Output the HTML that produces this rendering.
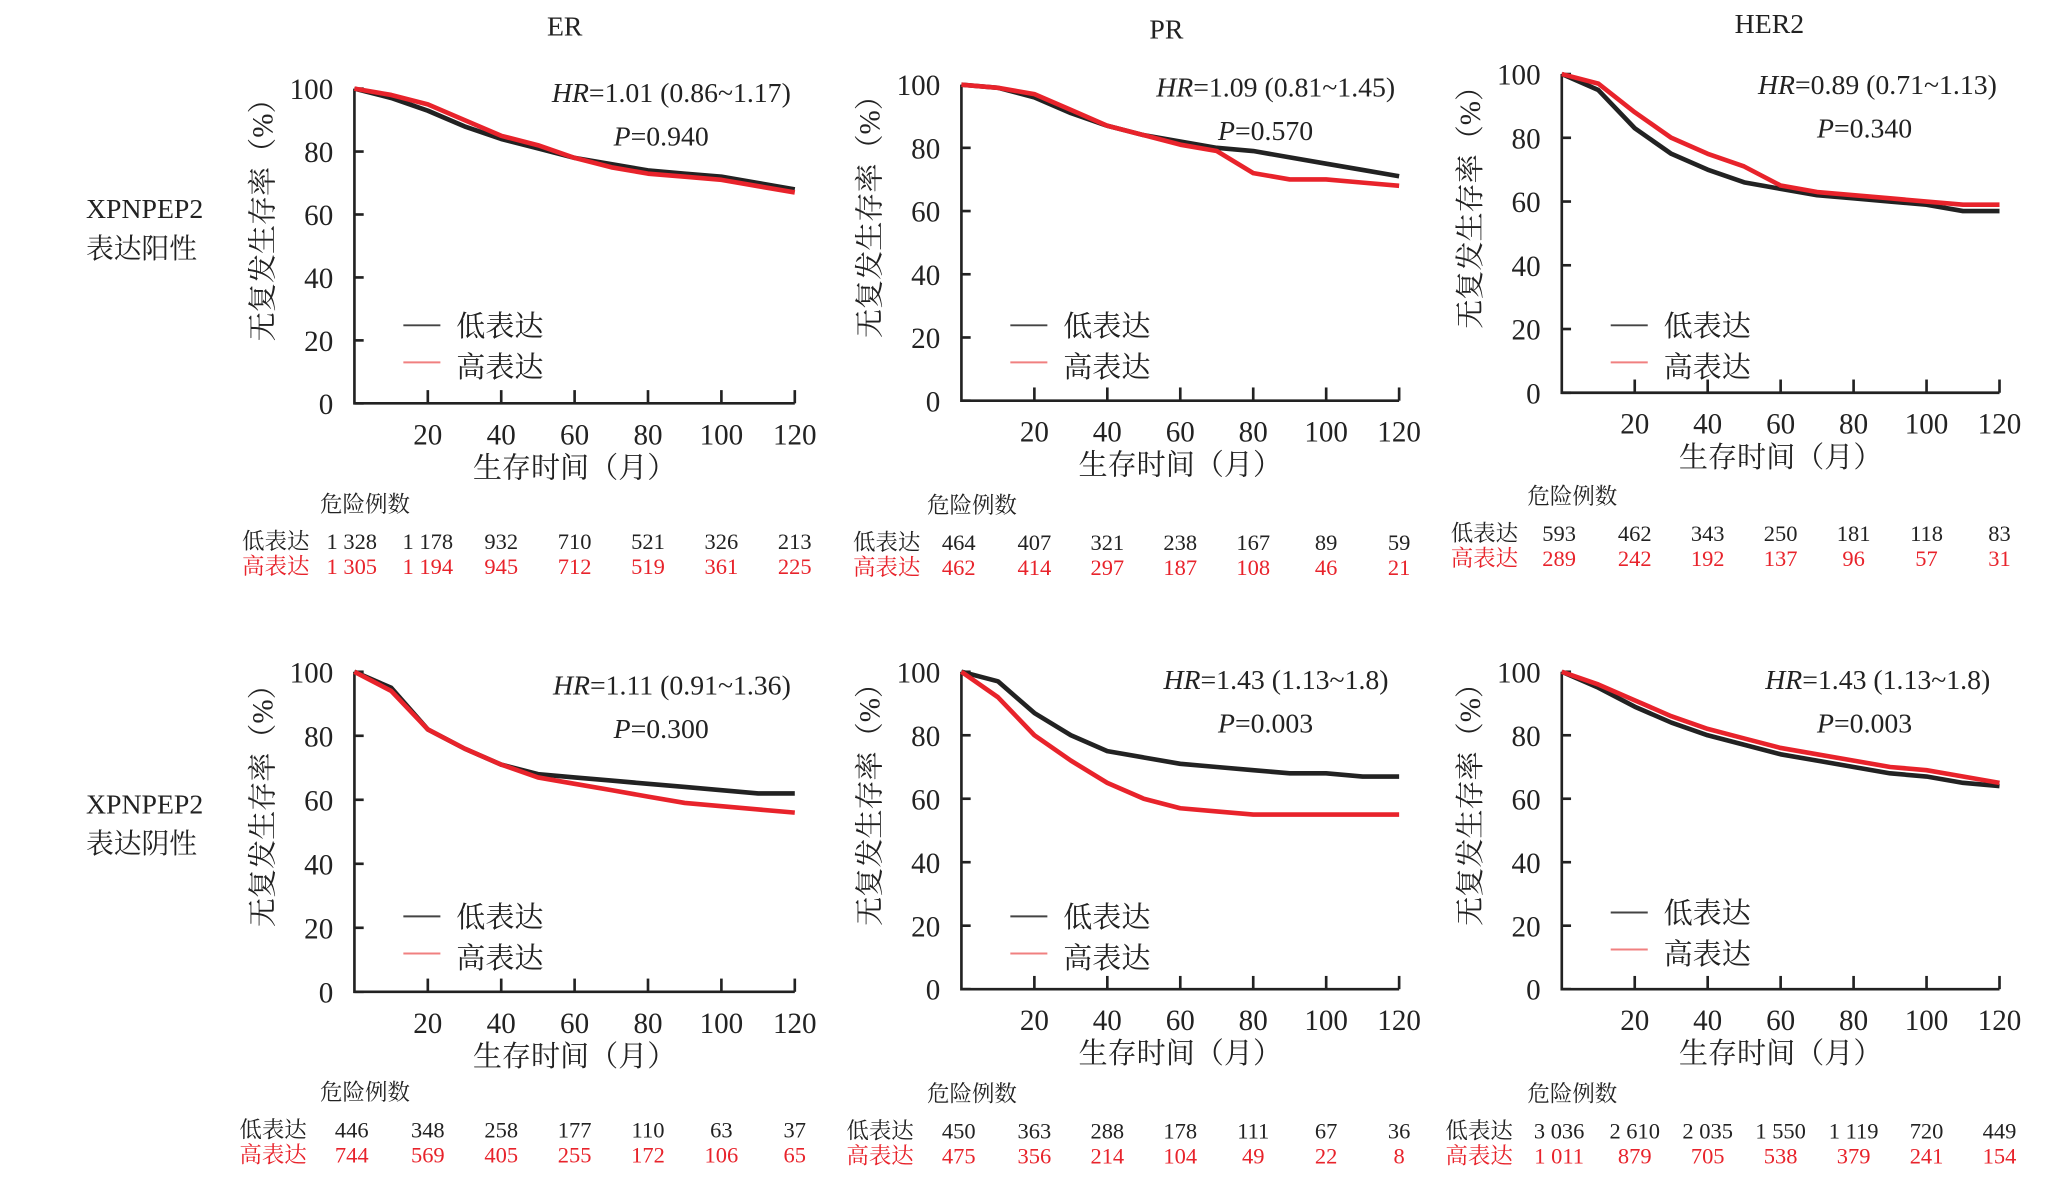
<!DOCTYPE html>
<html><head><meta charset="utf-8"><style>
html,body{margin:0;padding:0;background:#fff;}
svg{display:block;}
text{font-family:"Liberation Serif","Noto Serif CJK SC",serif;}
</style></head><body>
<svg id="chart" width="2063" height="1178" viewBox="0 0 1560 890.8" xmlns="http://www.w3.org/2000/svg"></svg>
<script>
const months = [0,10,20,30,40,50,60,70,80,90,100,110,120];
const xTicks = [20,40,60,80,100,120];
const yTicks = [0,20,40,60,80,100];
const erPosLow  = [100,97,93,88,84,81,78,76,74,73,72,70,68];
const erPosHigh = [100,98,95,90,85,82,78,75,73,72,71,69,67];
const prPosLow  = [100,99,96,91,87,84,82,80,79,77,75,73,71];
const prPosHigh = [100,99,97,92,87,84,81,79,72,70,70,69,68];
const herPosLow  = [100,95,83,75,70,66,64,62,61,60,59,57,57];
const herPosHigh = [100,97,88,80,75,71,65,63,62,61,60,59,59];
const erNegLow  = [100,95,82,76,71,68,67,66,65,64,63,62,62];
const erNegHigh = [100,94,82,76,71,67,65,63,61,59,58,57,56];
const prNegLow  = [100,97,87,80,75,73,71,70,69,68,68,67,67];
const prNegHigh = [100,92,80,72,65,60,57,56,55,55,55,55,55];
const herNegLow  = [100,95,89,84,80,77,74,72,70,68,67,65,64];
const herNegHigh = [100,96,91,86,82,79,76,74,72,70,69,67,65];
const riskErPosLow = ["1 328","1 178","932","710","521","326","213"];
const riskErPosHigh = ["1 305","1 194","945","712","519","361","225"];
const riskPrPosLow = ["464","407","321","238","167","89","59"];
const riskPrPosHigh = ["462","414","297","187","108","46","21"];
const riskHerPosLow = ["593","462","343","250","181","118","83"];
const riskHerPosHigh = ["289","242","192","137","96","57","31"];
const riskErNegLow = ["446","348","258","177","110","63","37"];
const riskErNegHigh = ["744","569","405","255","172","106","65"];
const riskPrNegLow = ["450","363","288","178","111","67","36"];
const riskPrNegHigh = ["475","356","214","104","49","22","8"];
const riskHerNegLow = ["3 036","2 610","2 035","1 550","1 119","720","449"];
const riskHerNegHigh = ["1 011","879","705","538","379","241","154"];

const NS="http://www.w3.org/2000/svg";
const svg=document.getElementById('chart');
function mk(tag,attrs,parent,txt){const e=document.createElementNS(NS,tag);for(const k in attrs)e.setAttribute(k,attrs[k]);if(txt!==undefined)e.textContent=txt;(parent||svg).appendChild(e);return e;}
function txt(x,y,s,size,anchor,parent,name,fill){const t=mk('text',{x:x,y:y,'font-size':size,'text-anchor':anchor||'middle'},parent,s);t.style.fill=fill||'#222';


return t;}

const panels=[
 {x0:268,x1:601,yT:67,yB:305,title:'ER',tX:427,tY:20,hr:'1.01 (0.86~1.17)',hrX:598,hrY:77,p:'0.940',pX:500,pY:110,legY:246,low:erPosLow,high:erPosHigh,rl:riskErPosLow,rh:riskErPosHigh,riskY:380,labX:183},
 {x0:727,x1:1058,yT:64,yB:303,title:'PR',tX:882,tY:22,hr:'1.09 (0.81~1.45)',hrX:1055,hrY:73,p:'0.570',pX:957,pY:106,legY:246,low:prPosLow,high:prPosHigh,rl:riskPrPosLow,rh:riskPrPosHigh,riskY:381,labX:645},
 {x0:1181,x1:1512,yT:56,yB:297,title:'HER2',tX:1338,tY:18,hr:'0.89 (0.71~1.13)',hrX:1510,hrY:71,p:'0.340',pX:1410,pY:104,legY:246,low:herPosLow,high:herPosHigh,rl:riskHerPosLow,rh:riskHerPosHigh,riskY:374,labX:1097},
 {x0:268,x1:601,yT:508,yB:750,hr:'1.11 (0.91~1.36)',hrX:598,hrY:525,p:'0.300',pX:500,pY:558,legY:693,low:erNegLow,high:erNegHigh,rl:riskErNegLow,rh:riskErNegHigh,riskY:825,labX:181},
 {x0:727,x1:1058,yT:508,yB:748,hr:'1.43 (1.13~1.8)',hrX:1050,hrY:521,p:'0.003',pX:957,pY:554,legY:693,low:prNegLow,high:prNegHigh,rl:riskPrNegLow,rh:riskPrNegHigh,riskY:826,labX:640},
 {x0:1181,x1:1512,yT:508,yB:748,hr:'1.43 (1.13~1.8)',hrX:1505,hrY:521,p:'0.003',pX:1410,pY:554,legY:690,low:herNegLow,high:herNegHigh,rl:riskHerNegLow,rh:riskHerNegHigh,riskY:826,labX:1093}
];

panels.forEach((P,i)=>{
 const g=mk('g',{});
 
 
 const xs=t=>P.x0+(P.x1-P.x0)*t/120;
 const ys=v=>P.yB-(P.yB-P.yT)*v/100;
 if(P.title) txt(P.tX,P.tY+7,P.title,21,'middle',g,'panel-title');
 const ax=mk('path',{d:`M${P.x0},${P.yT} V${P.yB} H${P.x1}`,stroke:'#222','stroke-width':2,fill:'none'},g);
 
 
 yTicks.forEach(v=>{
  mk('line',{x1:P.x0,x2:P.x0+7,y1:ys(v),y2:ys(v),stroke:'#222','stroke-width':2},g);
  txt(P.x0-16,ys(v)+8,String(v),22,'end',g,'y-tick-label');
 });
 xTicks.forEach(t=>{
  mk('line',{x1:xs(t),x2:xs(t),y1:P.yB,y2:P.yB-10,stroke:'#222','stroke-width':2},g);
  txt(xs(t),P.yB+31,String(t),22,'middle',g,'x-tick-label');
 });
 const yt=txt(0,0,'无复发生存率（%）',22,'middle',g,'y-axis-title');
 yt.setAttribute('transform',`translate(${P.x0-62},${(P.yT+P.yB)/2-25}) rotate(-90)`);
 txt((P.x0+P.x1)/2,P.yB+56,'生存时间（月）',22,'middle',g,'x-axis-title');
 [[P.low,'#222','low-expression-curve'],[P.high,'#e8232b','high-expression-curve']].forEach(([arr,c,n])=>{
  let d='';arr.forEach((v,k)=>{d+=(k?'L':'M')+xs(months[k]).toFixed(1)+','+ys(v).toFixed(1);});
  const pl=mk('path',{d:d,stroke:c,'stroke-width':3.5,fill:'none','stroke-linejoin':'round'},g);
  
  
 });
 const h=mk('text',{x:P.hrX,y:P.hrY,'font-size':21,'text-anchor':'end'},g);
 h.style.fill='#222';
 
 
 mk('tspan',{'font-style':'italic'},h,'HR');mk('tspan',{},h,'='+P.hr);
 const p=mk('text',{x:P.pX,y:P.pY,'font-size':21,'text-anchor':'middle'},g);
 p.style.fill='#222';
 
 
 mk('tspan',{'font-style':'italic'},p,'P');mk('tspan',{},p,'='+P.p);
 const lx=P.x0+37;
 mk('line',{x1:lx,x2:lx+28,y1:P.legY,y2:P.legY,stroke:'#444','stroke-width':1.5},g);
 txt(lx+40,P.legY+8,'低表达',22,'start',g,'legend-low');
 mk('line',{x1:lx,x2:lx+28,y1:P.legY+28,y2:P.legY+28,stroke:'#f08080','stroke-width':1.5},g);
 txt(lx+40,P.legY+39,'高表达',22,'start',g,'legend-high');
 txt(P.x0-26,P.riskY+7,'危险例数',17,'start',g,'risk-table-title');
 txt(P.labX,P.riskY+35,'低表达',17,'start',g,'risk-label-low');
 txt(P.labX,P.riskY+54,'高表达',17,'start',g,'risk-label-high','#e8232b');
 const cols=[0].concat(xTicks);
 P.rl.forEach((s,k)=>txt(xs(cols[k])+(k==0?-2:0),P.riskY+35,s,17,'middle',g,'risk-count-low'));
 P.rh.forEach((s,k)=>txt(xs(cols[k])+(k==0?-2:0),P.riskY+54,s,17,'middle',g,'risk-count-high','#e8232b'));
});
txt(65,165,'XPNPEP2',21,'start',null,'row-label-positive');
txt(65,195,'表达阳性',21,'start',null,'row-label-positive-cn');
txt(65,615,'XPNPEP2',21,'start',null,'row-label-negative');
txt(65,645,'表达阴性',21,'start',null,'row-label-negative-cn');
</script>
</body></html>
